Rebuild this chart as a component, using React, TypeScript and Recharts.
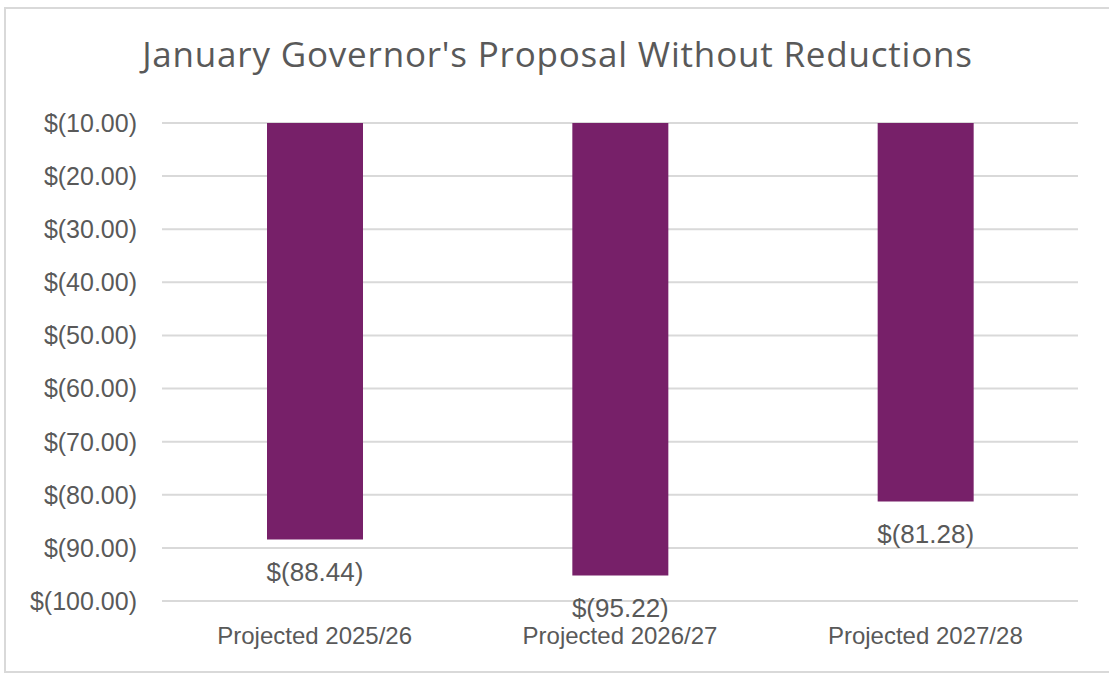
import React from 'react';
import { BarChart, Bar, XAxis, YAxis, CartesianGrid, LabelList } from 'recharts';

const title = "January Governor's Proposal Without Reductions";
const categories = ['Projected 2025/26', 'Projected 2026/27', 'Projected 2027/28'];
const values = [-88.44, -95.22, -81.28];
const yTicks = [-10, -20, -30, -40, -50, -60, -70, -80, -90, -100];

const data = categories.map((c, i) => ({ category: c, value: values[i] }));

const TEXT = '#595959';
const SANS = "'Liberation Sans', Arial, sans-serif";

const fmt = (v: number) =>
  v < 0 ? `$(${Math.abs(v).toFixed(2)})` : `$${Number(v).toFixed(2)}`;

const renderLabel = (props: any) => {
  const { x, y, width, height, value } = props;
  const nx = Number(x);
  const ny = Number(y);
  const nw = Number(width);
  const nh = Number(height);
  const end = Math.max(ny, ny + nh);
  return (
    <text
      x={nx + nw / 2}
      y={end + 32}
      dy="0.35em"
      textAnchor="middle"
      fontSize={26}
      fill={TEXT}
      fontFamily={SANS}
    >
      {fmt(Number(value))}
    </text>
  );
};

export default function App() {
  return (
    <div
      style={{
        position: 'absolute',
        left: 0,
        top: 0,
        width: 1109,
        height: 674,
        overflow: 'hidden',
        background: '#ffffff',
      }}
    >
      <div
        style={{
          position: 'absolute',
          left: 4,
          top: 7,
          width: 1200,
          height: 666,
          boxSizing: 'border-box',
          border: '2px solid #d9d9d9',
        }}
      />
      <svg
        width={1109}
        height={110}
        style={{ position: 'absolute', left: 0, top: 0, pointerEvents: 'none' }}
      >
        <text
          x={557.5}
          y={67}
          textAnchor="middle"
          fontSize={35}
          letterSpacing={0.8}
          fill={TEXT}
          fontFamily="'Open Sans', sans-serif"
        >
          {title}
        </text>
      </svg>
      <div style={{ position: 'absolute', left: 0, top: 0 }}>
        <BarChart
          width={1109}
          height={674}
          data={data}
          margin={{ top: 123, right: 31, bottom: 0, left: 12 }}
        >
          <CartesianGrid vertical={false} stroke="#d9d9d9" strokeWidth={2} />
          <XAxis
            dataKey="category"
            height={73}
            axisLine={false}
            tickLine={false}
            tickSize={0}
            tickMargin={26}
            interval={0}
            tick={{ fontSize: 24, fill: TEXT, fontFamily: SANS }}
          />
          <YAxis
            type="number"
            domain={[-100, -10]}
            ticks={yTicks}
            interval={0}
            width={150}
            axisLine={false}
            tickLine={false}
            tickSize={0}
            tickMargin={25}
            tickFormatter={fmt}
            tick={{ fontSize: 25, fill: TEXT, fontFamily: SANS }}
          />
          <Bar dataKey="value" fill="#772069" barSize={96} isAnimationActive={false}>
            <LabelList dataKey="value" content={renderLabel} />
          </Bar>
        </BarChart>
      </div>
    </div>
  );
}
